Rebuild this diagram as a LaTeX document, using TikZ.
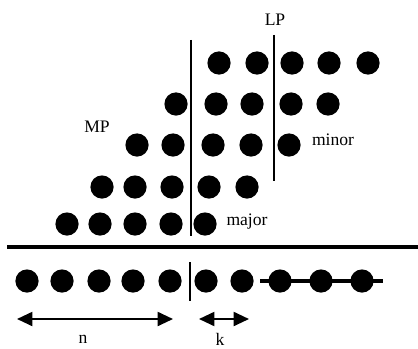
\documentclass[tikz,border=0pt]{standalone}
\usepackage{fontspec}
\setmainfont{Liberation Serif}
\usetikzlibrary{arrows.meta}
\tikzset{
  dot/.style={circle,fill=black,inner sep=0pt,minimum size=0.58cm},
  bar/.style={line width=2pt},
  span/.style={line width=1.5pt,{Triangle[length=11pt,width=10pt]}-{Triangle[length=11pt,width=10pt]}}
}

\begin{document}
\begin{tikzpicture}[x=0.025cm,y=-0.025cm,font=\fontsize{12.5}{14}\selectfont]
      \useasboundingbox (0,0) rectangle (418,348);
      % upper staircase of dots
      \foreach \x [count=\i] in {219,257,292,329,368} \node[dot] (a\i) at (\x,63) {};
      \foreach \x [count=\i] in {176,216,252,291,328} \node[dot] (b\i) at (\x,104) {};
      \foreach \x [count=\i] in {137,173,213,251,289} \node[dot] (c\i) at (\x,145) {};
      \foreach \x [count=\i] in {102,135,172,209,247} \node[dot] (d\i) at (\x,187) {};
      \foreach \x [count=\i] in {67,100,135,171,205} \node[dot] (e\i) at (\x,224) {};
      % bottom row
      \foreach \x [count=\i] in {27,62,99,133,170,206,242,280,321,362} \node[dot] (f\i) at (\x,281) {};
      \coordinate (tail0) at (260,281);
      \coordinate (tail1) at (383,281);
      \draw[line width=2.2pt] (tail0) -- (tail1);
      % dividing lines
      \coordinate (mptop) at (191,40);
      \coordinate (mpbot) at (191,236);
      \coordinate (lptop) at (274,35);
      \coordinate (lpbot) at (274,181);
      \coordinate (gndl) at (7,247);
      \coordinate (gndr) at (418,247);
      \coordinate (cuttop) at (190,262);
      \coordinate (cutbot) at (190,301);
      \draw[bar] (mptop) -- (mpbot);
      \draw[bar] (lptop) -- (lpbot);
      \draw[line width=2.5pt] (gndl) -- (gndr);
      \draw[bar] (cuttop) -- (cutbot);
      % labels
      \node (lp) at (275,20) {LP};
      \node (mp) at (97,127) {MP};
      \node (minor) at (333,140) {minor};
      \node (major) at (247,222) {major};
      % spans
      \coordinate (n0) at (17,319);
      \coordinate (n1) at (173,319);
      \coordinate (k0) at (199,319);
      \coordinate (k1) at (249,319);
      \draw[span] (n0) -- (n1);
      \draw[span] (k0) -- (k1);
      \node (nlab) at (83,339) {n};
      \node (klab) at (220,339) {k};
    \end{tikzpicture}
\end{document}
